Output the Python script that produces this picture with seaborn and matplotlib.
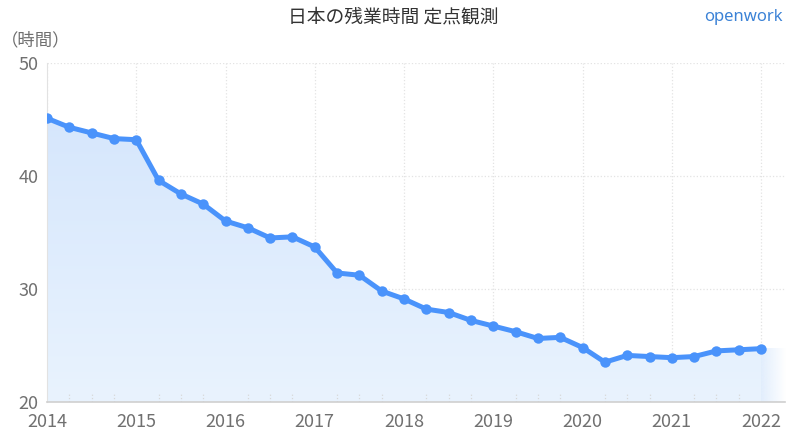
import numpy as np
import pandas as pd
import matplotlib
matplotlib.use('Agg')
import matplotlib.pyplot as plt
import seaborn as sns
from matplotlib.colors import to_rgb

# quarterly overtime hours (2014Q1 - 2022Q1)
quarters = [str(p) for p in pd.period_range('2014Q1', '2022Q1', freq='Q')]
hours = [45.1, 44.3, 43.8, 43.3, 43.2, 39.6, 38.4, 37.5,
         36.0, 35.4, 34.5, 34.6, 33.7, 31.4, 31.2, 29.8,
         29.1, 28.2, 27.9, 27.2, 26.7, 26.2, 25.6, 25.7,
         24.8, 23.5, 24.1, 24.0, 23.9, 24.0, 24.5, 24.6, 24.7]
year_ticks = list(range(2014, 2023))
y_ticks = [20, 30, 40, 50]

periods = pd.PeriodIndex(quarters, freq='Q')
df = pd.DataFrame({'x': periods.year + (periods.quarter - 1) / 4, 'hours': hours})

sns.set_style('white')
plt.rcParams['font.family'] = ['Noto Sans CJK JP', 'DejaVu Sans']

line_color = '#4a93fb'
fig = plt.figure(figsize=(7.87, 4.4), dpi=100)
ax = fig.add_axes([0.0597, 0.087, 0.938, 0.770])
xmax = 2022.27
ax.set_xlim(2014, xmax)
ax.set_ylim(20, 50)

# gradient area under the line
poly = ax.fill_between(df['x'], df['hours'], 20, color='none', lw=0)
top_c = np.array(to_rgb('#d2e4fc'))
bot_c = np.array(to_rgb('#e9f3fe'))
t = np.linspace(0, 1, 256)[:, None]
grad = top_c * (1 - t) + bot_c * t
grad = np.repeat(grad[:, None, :], 2, axis=1)
im = ax.imshow(grad, extent=[2014, 2022, 20, 50], aspect='auto', zorder=1, origin='upper')
im.set_clip_path(poly.get_paths()[0], transform=ax.transData)

# faded extension after the last point
last = hours[-1]
fade = np.zeros((2, 128, 4))
fade[..., :3] = to_rgb('#e2eefd')
fade[..., 3] = np.linspace(1, 0, 128)[None, :]
ax.imshow(fade, extent=[df['x'].iloc[-1], xmax, 20, last], aspect='auto', zorder=1)

sns.lineplot(data=df, x='x', y='hours', ax=ax, color=line_color, lw=3.6,
             marker='o', markersize=7.5, markeredgewidth=0, zorder=3)

ax.set_xticks(year_ticks)
ax.set_xticklabels([str(y) for y in year_ticks])
ax.set_yticks(y_ticks)
ax.grid(True, color='#e3e3e3', ls=':', lw=0.9, zorder=0)
ax.set_axisbelow(True)
ax.tick_params(axis='both', length=0, labelsize=13, labelcolor='#707070')
ax.tick_params(axis='x', pad=8)
ax.tick_params(axis='y', pad=6)
ax.set_xlabel('')
ax.set_ylabel('')

# quarter marks along the bottom
for xq in df['x']:
    if xq % 1 != 0:
        ax.plot([xq, xq], [20, 20.7], color='#d8d8d8', ls=':', lw=0.9, zorder=2)

for side in ['top', 'right']:
    ax.spines[side].set_visible(False)
ax.spines['left'].set_color('#e2e2e2')
ax.spines['bottom'].set_color('#cfcfcf')
ax.spines['bottom'].set_linewidth(1.2)

fig.text(0.5, 0.962, '日本の残業時間 定点観測', ha='center', va='center',
         fontsize=13.5, color='#333333')
fig.text(0.995, 0.962, 'openwork', ha='right', va='center', fontsize=12,
         color='#3b82d6', fontweight='bold', family=['Noto Sans', 'DejaVu Sans'])
fig.text(0.001, 0.908, '（時間）', ha='left', va='center', fontsize=12.5, color='#707070')

fig.savefig('out.png', dpi=100)
